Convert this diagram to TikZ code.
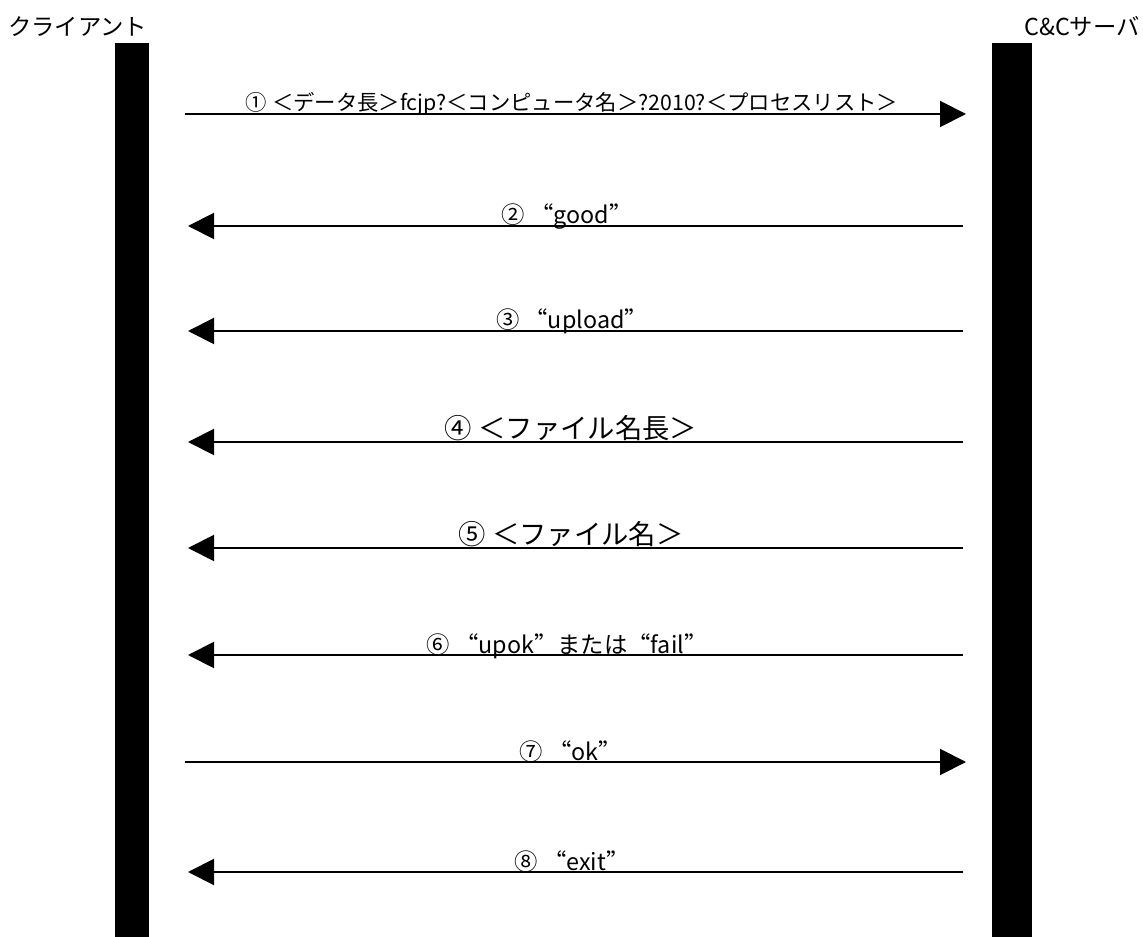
\documentclass[tikz,border=0pt]{standalone}
\usepackage{fontspec}
\setmainfont{Noto Sans CJK JP}
\usetikzlibrary{arrows.meta}
\newcommand{\myLq}{{\addfontfeature{CharacterWidth=Full}“}}
\newcommand{\myRq}{{\addfontfeature{CharacterWidth=Full}”}}
\begin{document}
\begin{tikzpicture}[x=0.75pt,y=-0.75pt,
  bar/.style={fill=black,draw=none,inner sep=0pt,minimum height=670.5pt,anchor=north},
  msg/.style={line width=1.5pt,-{Triangle[length=19.5pt,width=19.5pt]}},
  lbl/.style={anchor=base,inner sep=0pt},
  lsmall/.style={lbl,font=\fontsize{16pt}{18pt}\selectfont},
  lmid/.style={lbl,font=\fontsize{17.5pt}{20pt}\selectfont},
  lbig/.style={lbl,font=\fontsize{20.5pt}{23pt}\selectfont},
  ttl/.style={anchor=base,inner sep=0pt,font=\fontsize{17.5pt}{20pt}\selectfont}]
\useasboundingbox (0,0) rectangle (1143,937);
\node[bar,minimum width=25.5pt] (client) at (132,43) {};
\node[bar,minimum width=30pt] (server) at (1012,43) {};
\node[ttl,anchor=base west] (tc) at (8,36) {クライアント};
\node[ttl,anchor=base east] (ts) at (1140,36) {C\&Cサーバ};
% arrow endpoints
\coordinate (l1) at (185,114); \coordinate (r1) at (966,114);
\coordinate (l2) at (188,226); \coordinate (r2) at (963,226);
\coordinate (l3) at (188,331); \coordinate (r3) at (963,331);
\coordinate (l4) at (188,442); \coordinate (r4) at (963,442);
\coordinate (l5) at (188,548); \coordinate (r5) at (963,548);
\coordinate (l6) at (188,655); \coordinate (r6) at (963,655);
\coordinate (l7) at (185,762); \coordinate (r7) at (966,762);
\coordinate (l8) at (188,872); \coordinate (r8) at (963,872);
\draw[msg] (l1) -- (r1);
\draw[msg] (r2) -- (l2);
\draw[msg] (r3) -- (l3);
\draw[msg] (r4) -- (l4);
\draw[msg] (r5) -- (l5);
\draw[msg] (r6) -- (l6);
\draw[msg] (l7) -- (r7);
\draw[msg] (r8) -- (l8);
\node[lsmall] (m1) at (572,111) {① ＜データ長＞fcjp?＜コンピュータ名＞?2010?＜プロセスリスト＞};
\node[lmid] (m2) at (567,224) {② \myLq good\myRq};
\node[lmid] (m3) at (572,329) {③ \myLq upload\myRq};
\node[lbig] (m4) at (571,439) {④ ＜ファイル名長＞};
\node[lbig] (m5) at (571,545) {⑤ ＜ファイル名＞};
\node[lmid] (m6) at (567,653) {⑥ \myLq upok\myRq または\myLq fail\myRq};
\node[lmid] (m7) at (571,760) {⑦ \myLq ok\myRq};
\node[lmid] (m8) at (572,870) {⑧ \myLq exit\myRq};
\end{tikzpicture}
\end{document}
